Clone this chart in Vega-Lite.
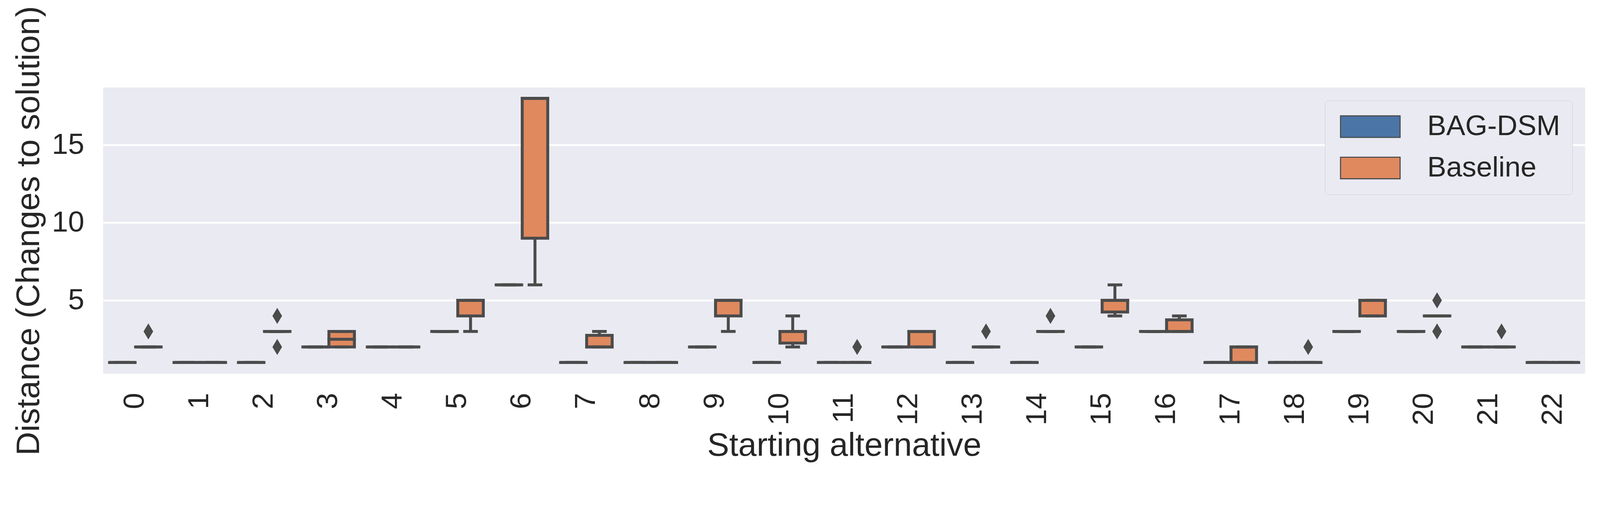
{
  "$schema": "https://vega.github.io/schema/vega-lite/v6.json",
  "width": 3794,
  "height": 733,
  "autosize": {"type": "none"},
  "padding": {"left": 264, "top": 224, "right": 39, "bottom": 264},
  "background": "white",
  "config": {
    "font": "Liberation Sans",
    "view": {"fill": "#EAEAF2", "stroke": null},
    "axis": {
      "domain": false, "ticks": false, "tickSize": 0,
      "labelColor": "#262626", "titleColor": "#262626",
      "labelFont": "Liberation Sans", "titleFont": "Liberation Sans",
      "titleFontWeight": "normal", "labelFontSize": 74.8, "titleFontSize": 84.2,
      "gridColor": "#FFFFFF", "gridWidth": 4.7, "gridOpacity": 1
    }
  },
  "datasets": {
    "boxes": [
      {"alt": 0, "method": "BAG-DSM", "lower": 1, "q1": 1, "median": 1, "q3": 1, "upper": 1},
      {"alt": 1, "method": "BAG-DSM", "lower": 1, "q1": 1, "median": 1, "q3": 1, "upper": 1},
      {"alt": 2, "method": "BAG-DSM", "lower": 1, "q1": 1, "median": 1, "q3": 1, "upper": 1},
      {"alt": 3, "method": "BAG-DSM", "lower": 2, "q1": 2, "median": 2, "q3": 2, "upper": 2},
      {"alt": 4, "method": "BAG-DSM", "lower": 2, "q1": 2, "median": 2, "q3": 2, "upper": 2},
      {"alt": 5, "method": "BAG-DSM", "lower": 3, "q1": 3, "median": 3, "q3": 3, "upper": 3},
      {"alt": 6, "method": "BAG-DSM", "lower": 6, "q1": 6, "median": 6, "q3": 6, "upper": 6},
      {"alt": 7, "method": "BAG-DSM", "lower": 1, "q1": 1, "median": 1, "q3": 1, "upper": 1},
      {"alt": 8, "method": "BAG-DSM", "lower": 1, "q1": 1, "median": 1, "q3": 1, "upper": 1},
      {"alt": 9, "method": "BAG-DSM", "lower": 2, "q1": 2, "median": 2, "q3": 2, "upper": 2},
      {"alt": 10, "method": "BAG-DSM", "lower": 1, "q1": 1, "median": 1, "q3": 1, "upper": 1},
      {"alt": 11, "method": "BAG-DSM", "lower": 1, "q1": 1, "median": 1, "q3": 1, "upper": 1},
      {"alt": 12, "method": "BAG-DSM", "lower": 2, "q1": 2, "median": 2, "q3": 2, "upper": 2},
      {"alt": 13, "method": "BAG-DSM", "lower": 1, "q1": 1, "median": 1, "q3": 1, "upper": 1},
      {"alt": 14, "method": "BAG-DSM", "lower": 1, "q1": 1, "median": 1, "q3": 1, "upper": 1},
      {"alt": 15, "method": "BAG-DSM", "lower": 2, "q1": 2, "median": 2, "q3": 2, "upper": 2},
      {"alt": 16, "method": "BAG-DSM", "lower": 3, "q1": 3, "median": 3, "q3": 3, "upper": 3},
      {"alt": 17, "method": "BAG-DSM", "lower": 1, "q1": 1, "median": 1, "q3": 1, "upper": 1},
      {"alt": 18, "method": "BAG-DSM", "lower": 1, "q1": 1, "median": 1, "q3": 1, "upper": 1},
      {"alt": 19, "method": "BAG-DSM", "lower": 3, "q1": 3, "median": 3, "q3": 3, "upper": 3},
      {"alt": 20, "method": "BAG-DSM", "lower": 3, "q1": 3, "median": 3, "q3": 3, "upper": 3},
      {"alt": 21, "method": "BAG-DSM", "lower": 2, "q1": 2, "median": 2, "q3": 2, "upper": 2},
      {"alt": 22, "method": "BAG-DSM", "lower": 1, "q1": 1, "median": 1, "q3": 1, "upper": 1},
      {"alt": 0, "method": "Baseline", "lower": 2, "q1": 2, "median": 2, "q3": 2, "upper": 2},
      {"alt": 1, "method": "Baseline", "lower": 1, "q1": 1, "median": 1, "q3": 1, "upper": 1},
      {"alt": 2, "method": "Baseline", "lower": 3, "q1": 3, "median": 3, "q3": 3, "upper": 3},
      {"alt": 3, "method": "Baseline", "lower": 2, "q1": 2, "median": 2.5, "q3": 3, "upper": 3},
      {"alt": 4, "method": "Baseline", "lower": 2, "q1": 2, "median": 2, "q3": 2, "upper": 2},
      {"alt": 5, "method": "Baseline", "lower": 3, "q1": 4, "median": 5, "q3": 5, "upper": 5},
      {"alt": 6, "method": "Baseline", "lower": 6, "q1": 9, "median": 18, "q3": 18, "upper": 18},
      {"alt": 7, "method": "Baseline", "lower": 2, "q1": 2, "median": 2, "q3": 2.75, "upper": 3},
      {"alt": 8, "method": "Baseline", "lower": 1, "q1": 1, "median": 1, "q3": 1, "upper": 1},
      {"alt": 9, "method": "Baseline", "lower": 3, "q1": 4, "median": 5, "q3": 5, "upper": 5},
      {"alt": 10, "method": "Baseline", "lower": 2, "q1": 2.25, "median": 3, "q3": 3, "upper": 4},
      {"alt": 11, "method": "Baseline", "lower": 1, "q1": 1, "median": 1, "q3": 1, "upper": 1},
      {"alt": 12, "method": "Baseline", "lower": 2, "q1": 2, "median": 3, "q3": 3, "upper": 3},
      {"alt": 13, "method": "Baseline", "lower": 2, "q1": 2, "median": 2, "q3": 2, "upper": 2},
      {"alt": 14, "method": "Baseline", "lower": 3, "q1": 3, "median": 3, "q3": 3, "upper": 3},
      {"alt": 15, "method": "Baseline", "lower": 4, "q1": 4.25, "median": 5, "q3": 5, "upper": 6},
      {"alt": 16, "method": "Baseline", "lower": 3, "q1": 3, "median": 3, "q3": 3.75, "upper": 4},
      {"alt": 17, "method": "Baseline", "lower": 1, "q1": 1, "median": 2, "q3": 2, "upper": 2},
      {"alt": 18, "method": "Baseline", "lower": 1, "q1": 1, "median": 1, "q3": 1, "upper": 1},
      {"alt": 19, "method": "Baseline", "lower": 4, "q1": 4, "median": 5, "q3": 5, "upper": 5},
      {"alt": 20, "method": "Baseline", "lower": 4, "q1": 4, "median": 4, "q3": 4, "upper": 4},
      {"alt": 21, "method": "Baseline", "lower": 2, "q1": 2, "median": 2, "q3": 2, "upper": 2},
      {"alt": 22, "method": "Baseline", "lower": 1, "q1": 1, "median": 1, "q3": 1, "upper": 1}
    ],
    "outliers": [
      {"alt": 0, "method": "Baseline", "value": 3},
      {"alt": 2, "method": "Baseline", "value": 2},
      {"alt": 2, "method": "Baseline", "value": 4},
      {"alt": 11, "method": "Baseline", "value": 2},
      {"alt": 13, "method": "Baseline", "value": 3},
      {"alt": 14, "method": "Baseline", "value": 4},
      {"alt": 18, "method": "Baseline", "value": 2},
      {"alt": 20, "method": "Baseline", "value": 3},
      {"alt": 20, "method": "Baseline", "value": 5},
      {"alt": 21, "method": "Baseline", "value": 3}
    ]
  },
  "encoding": {
    "x": {
      "field": "alt", "type": "ordinal", "sort": "ascending",
      "scale": {"type": "band", "paddingInner": 0.2, "paddingOuter": 0.1},
      "axis": {"labelAngle": -90, "labelPadding": 48.6, "title": "Starting alternative", "titlePadding": 10.3, "grid": false}
    },
    "xOffset": {
      "field": "method", "type": "nominal",
      "scale": {"domain": ["BAG-DSM", "Baseline"], "paddingInner": 0.02, "paddingOuter": 0}
    }
  },
  "layer": [
    {
      "data": {"name": "boxes"},
      "mark": {"type": "rule", "color": "#4b4b4b", "strokeWidth": 7.5},
      "encoding": {
        "y": {
          "field": "lower", "type": "quantitative", "title": "Distance (Changes to solution)",
          "scale": {"domain": [0.28, 18.7], "nice": false, "zero": false},
          "axis": {"values": [5, 10, 15], "labelPadding": 48.6, "titlePadding": 15, "grid": true}
        },
        "y2": {"field": "upper"}
      }
    },
    {
      "data": {"name": "boxes"},
      "mark": {"type": "bar", "stroke": "#4b4b4b", "strokeWidth": 7.5, "opacity": 1},
      "encoding": {
        "y": {"field": "q1", "type": "quantitative", "title": "Distance (Changes to solution)"},
        "y2": {"field": "q3"},
        "color": {
          "field": "method", "type": "nominal",
          "scale": {"domain": ["BAG-DSM", "Baseline"], "range": ["#4A75A6", "#E0895F"]},
          "legend": {
            "title": null, "orient": "top-right", "offset": 32.7, "padding": 30.9,
            "cornerRadius": 9.4, "fillColor": "#EAEAF2", "strokeColor": "#CFCFD4",
            "symbolType": "M-1,-1L4.525,-1L4.525,1L-1,1Z", "symbolSize": 3047,
            "symbolStrokeColor": "#4b4b4b", "symbolStrokeWidth": 2.8, "symbolOpacity": 1,
            "labelFontSize": 72.9, "labelOffset": 158, "labelLimit": 1000, "rowPadding": 31.8,
            "labelColor": "#262626", "labelFont": "Liberation Sans"
          }
        }
      }
    },
    {
      "data": {"name": "boxes"},
      "mark": {"type": "tick", "color": "#4b4b4b", "size": 72.9, "thickness": 7.5, "opacity": 1},
      "encoding": {
        "y": {"field": "median", "type": "quantitative", "title": "Distance (Changes to solution)"}
      }
    },
    {
      "data": {"name": "boxes"},
      "mark": {"type": "tick", "color": "#4b4b4b", "size": 37.4, "thickness": 7.5, "opacity": 1},
      "encoding": {
        "y": {"field": "lower", "type": "quantitative", "title": "Distance (Changes to solution)"}
      }
    },
    {
      "data": {"name": "boxes"},
      "mark": {"type": "tick", "color": "#4b4b4b", "size": 37.4, "thickness": 7.5, "opacity": 1},
      "encoding": {
        "y": {"field": "upper", "type": "quantitative", "title": "Distance (Changes to solution)"}
      }
    },
    {
      "data": {"name": "outliers"},
      "mark": {"type": "point", "shape": "M0,-1L0.6,0L0,1L-0.6,0Z", "filled": true, "color": "#4b4b4b", "size": 1691, "opacity": 1},
      "encoding": {
        "y": {"field": "value", "type": "quantitative", "title": "Distance (Changes to solution)"}
      }
    }
  ]
}
